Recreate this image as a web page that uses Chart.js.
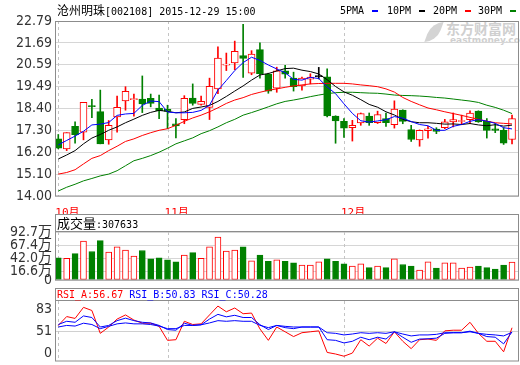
<!DOCTYPE html>
<html>
<head>
<meta charset="utf-8">
<script src="https://cdn.jsdelivr.net/npm/chart.js@4.4.1/dist/chart.umd.min.js"></script>
<style>
  body { margin: 0; background: #fff; }
  #wrap { position: relative; width: 520px; height: 365px; overflow: hidden; }
  canvas { position: absolute; left: 0; z-index: 1; }
  .t { position: absolute; white-space: nowrap; font-family: "DejaVu Sans Mono", monospace; font-size: 10px; line-height: 12px; color: #000; z-index: 2; }
  .cjk { font-family: "Noto Sans CJK SC", sans-serif; font-size: 12px; }
  .dash { position: absolute; width: 6px; height: 2px; z-index: 2; }
  .wm { position: absolute; z-index: 0; color: #cfcfcf; font-weight: bold; white-space: nowrap; }
</style>
</head>
<body>
<div id="wrap">
  <div class="wm" style="left:446px;top:19px;font-family:'Noto Sans CJK SC';font-size:14px;line-height:18px;">东方财富网</div>
  <div class="wm" style="left:450px;top:35px;font-family:'DejaVu Sans';font-size:9px;line-height:10px;">eastmoney.com</div>
  <div class="wm" style="left:428px;top:22px;width:12px;height:20px;background:#d4d4d4;border-radius:12px 0 12px 0;transform:skewX(-20deg);"></div>

  <canvas id="main" width="520" height="214" style="top:0"></canvas>
  <canvas id="vol" width="520" height="74" style="top:214px"></canvas>
  <canvas id="rsi" width="520" height="77" style="top:288px"></canvas>

  <div class="t" style="left:57px;top:2px;line-height:16px;"><span class="cjk">沧州明珠</span>[002108] 2015-12-29 15:00</div>
  <div id="legend"></div>
  <div class="t" id="volHead" style="left:57px;top:215px;line-height:16px;"></div>
  <div class="t" id="rsiHead" style="left:57px;top:289px;"></div>
</div>

<script>
// daily K-line, 2015-10-14 .. 2015-12-29
const monthLabels = ['10月', '11月', '12月'];
const monthIdx = [0, 13, 34];

const opens = [16.87,16.37,17.50,17.21,18.53,18.24,16.82,17.97,18.78,18.84, 18.87,18.90,18.41,18.35,17.63,17.84,18.92,18.60,18.45,19.38, 20.57,20.68,21.05,20.17,21.35,20.12,19.41,20.29,19.92,19.53, 19.87,20.00,19.98,18.01,17.75,17.43,17.67,18.01,17.68,17.89, 17.58,18.31,17.33,16.82,17.28,17.36,17.43,17.72,17.74,17.84, 18.26,17.75,17.38,17.30,16.84];
const highs = [17.09,17.18,17.72,18.70,18.85,19.32,17.79,19.02,19.49,19.12, 20.03,19.12,19.07,18.56,17.89,19.04,19.63,19.02,19.92,21.49, 21.18,21.78,22.62,21.30,21.69,20.17,20.47,20.56,20.22,19.97, 20.14,20.46,20.39,18.03,17.89,17.80,18.17,18.17,18.26,18.17, 18.78,18.33,17.55,17.32,17.50,17.43,17.85,18.17,18.06,18.28, 18.28,17.89,17.63,17.43,18.06];
const lows = [16.37,16.28,16.65,16.82,17.94,16.62,16.60,17.21,18.31,18.01, 18.19,18.48,17.89,17.38,16.92,17.63,18.56,18.56,17.84,19.14, 20.30,20.34,19.95,20.09,19.92,19.16,19.21,19.92,19.27,19.32, 19.63,19.88,17.97,16.65,16.94,16.76,17.55,17.55,17.64,17.50, 17.41,17.63,16.74,16.50,16.91,17.13,17.38,17.47,17.58,17.63, 17.70,16.91,17.18,16.59,16.62];
const closes = [16.40,17.18,17.08,18.70,18.49,16.62,17.55,18.45,19.26,18.86, 18.63,18.65,18.28,18.25,17.52,18.90,18.65,18.75,19.51,20.93, 20.61,21.27,20.91,21.13,20.14,19.27,20.29,20.12,19.49,19.92, 19.97,20.00,18.02,17.77,17.41,17.55,18.14,17.68,18.09,17.68, 18.36,17.75,16.84,17.30,17.38,17.25,17.72,17.84,17.76,18.17, 17.72,17.30,17.30,16.65,17.89];

const ma5 = [16.57,16.79,17.01,17.25,17.57,17.61,17.69,18.05,18.12,18.15, 18.55,18.77,18.74,18.22,18.18,18.18,18.20,18.30,18.56,19.32, 19.80,20.30,20.70,20.97,20.81,20.58,20.38,20.19,19.86,19.82, 19.96,19.90,19.48,19.14,18.63,18.15,17.78,17.71,17.77,17.83, 17.99,17.91,17.74,17.59,17.53,17.30,17.30,17.50,17.59,17.75, 17.84,17.76,17.65,17.43,17.37];
const ma10 = [15.86,16.06,16.28,16.62,16.91,17.09,17.30,17.47,17.68,17.86, 18.05,18.20,18.30,18.25,18.18,18.22,18.40,18.47,18.55,18.75, 19.00,19.27,19.53,19.82,20.08,20.15,20.28,20.40,20.42,20.32, 20.25,20.13,19.84,19.50,19.23,19.06,18.84,18.60,18.46,18.23, 18.07,17.85,17.73,17.68,17.68,17.65,17.61,17.62,17.59,17.64, 17.57,17.53,17.58,17.51,17.56];
const ma20 = [15.10,15.18,15.32,15.61,15.89,16.03,16.28,16.50,16.74,16.87, 17.04,17.18,17.30,17.38,17.55,17.75,17.92,18.06,18.23,18.43, 18.65,18.82,18.94,19.10,19.21,19.31,19.38,19.46,19.53,19.58, 19.63,19.65,19.66,19.66,19.66,19.63,19.58,19.54,19.49,19.38, 19.22,18.95,18.75,18.58,18.42,18.33,18.23,18.14,18.05,17.95, 17.85,17.76,17.68,17.65,17.62];
const ma30 = [14.25,14.44,14.59,14.76,14.88,15.01,15.10,15.27,15.52,15.77, 15.89,16.03,16.20,16.40,16.62,16.77,16.92,17.13,17.28,17.47, 17.68,17.85,18.06,18.19,18.33,18.48,18.63,18.75,18.82,18.90, 18.99,19.07,19.14,19.19,19.21,19.21,19.19,19.17,19.16,19.12, 19.07,19.05,19.04,19.02,18.99,18.95,18.92,18.87,18.82,18.77, 18.70,18.56,18.45,18.31,18.14];

// volume in 万 shares
const volumes = [43,42,51,75,55,76,54,64,58,46, 57,41,43,39,35,48,53,42,64,83, 56,58,64,37,48,36,39,36,33,29, 29,35,41,36,31,27,31,24,27,24, 41,30,27,19,35,23,33,33,23,25, 27,24,21,29,34.7];
const volumeLast = 307633;

const rsiA = [59.9,72.3,69.7,85.2,80.8,48.8,57.7,68.8,74.6,67.4, 63.0,63.0,58.6,39.0,39.9,65.7,61.2,62.1,74.6,87.0, 79.0,84.3,76.3,77.2,55.0,39.0,57.7,51.0,44.3,49.7, 51.0,52.3,22.1,19.9,16.8,21.2,39.9,31.0,42.1,34.6, 51.0,37.7,27.4,39.9,40.8,39.0,52.3,53.2,53.2,64.3, 48.8,37.7,37.7,23.0,56.67];
const rsiB = [61.2,65.7,64.3,73.2,71.0,57.7,59.9,66.6,70.1,66.6, 64.3,63.4,59.9,54.1,53.2,63.0,59.9,60.8,68.8,75.4, 71.9,74.1,71.0,71.0,61.0,54.1,59.9,56.8,55.4,57.7, 57.7,57.7,39.9,39.0,35.4,37.7,43.4,39.9,43.4,40.8, 51.0,43.4,36.3,40.8,41.2,42.1,48.8,49.7,49.7,51.9, 48.8,44.3,43.4,34.1,50.83];
const rsiC = [57.7,59.9,59.0,63.0,61.2,55.4,58.6,62.1,63.4,62.1, 62.1,61.2,59.0,55.4,55.4,59.9,59.9,60.8,63.4,66.6, 65.7,66.6,65.7,65.7,60.0,56.8,59.9,58.6,57.7,57.7, 57.7,57.7,49.7,48.8,46.6,47.9,49.7,48.8,49.7,48.8, 51.0,47.9,45.2,46.6,46.6,47.4,49.7,49.7,49.7,51.0, 48.8,47.4,46.6,45.2,50.28];

const priceTicks = [14.00, 15.10, 16.20, 17.30, 18.40, 19.49, 20.59, 21.69, 22.79];
const volTicks = [0, 16.6, 42.0, 67.4, 92.7];
const rsiTicks = [20.7, 51, 83];
const rsiTickLabels = ['0', '51', '83'];

const RED = '#ff0000', GREEN = '#008000', BLUE = '#0000ff', BLACK = '#000000';
const maNames = ['5PMA', '10PM', '20PM', '30PM'];
const maColors = [BLUE, BLACK, RED, GREEN];

const candleColor = i => closes[i] > opens[i] ? RED : (closes[i] < opens[i] ? GREEN : BLACK);
const volColor = i => closes[i] >= opens[i] ? RED : GREEN;
const pts = arr => arr.map((v, i) => ({ x: i, y: v }));

Chart.defaults.font.family = '"Liberation Sans Narrow", "DejaVu Sans Condensed", "Noto Sans CJK SC", sans-serif';
Chart.defaults.font.size = 14;
Chart.defaults.color = '#333';

// frame + dashed month lines, drawn with the chart's own x scale
const panelFrame = {
  id: 'panelFrame',
  beforeDatasetsDraw(chart) {
    const { ctx, chartArea: a, scales: { x } } = chart;
    ctx.save();
    ctx.strokeStyle = '#c4c4c4';
    ctx.lineWidth = 1;
    ctx.setLineDash([3, 3]);
    monthIdx.forEach(i => {
      const px = Math.round(x.getPixelForValue(i)) + 0.5;
      ctx.beginPath();
      ctx.moveTo(px, a.top);
      ctx.lineTo(px, a.bottom);
      ctx.stroke();
    });
    ctx.restore();
  },
  afterDraw(chart, args, opts) {
    const { ctx, chartArea: a } = chart;
    const top = opts.boxTop !== undefined ? opts.boxTop : a.top;
    ctx.save();
    ctx.strokeStyle = '#8c8c8c';
    ctx.lineWidth = 1;
    ctx.strokeRect(a.left + 0.5, top + 0.5, a.right - a.left - 1, a.bottom - top - 0.5);
    if (opts.head) {
      ctx.beginPath();
      ctx.moveTo(a.left, a.top - 0.5);
      ctx.lineTo(a.right, a.top - 0.5);
      ctx.stroke();
    }
    ctx.restore();
  }
};

function xAxis(show) {
  return {
    type: 'linear', min: -0.39, max: 54.83, display: show, offset: false,
    grid: { display: false, offset: false }, border: { display: false },
    afterBuildTicks: s => { s.ticks = monthIdx.map(v => ({ value: v })); },
    afterFit: s => { if (show) s.height = 18; },
    ticks: {
      autoSkip: false, maxRotation: 0, align: 'start', labelOffset: -3, padding: 3,
      color: RED, font: { family: '"DejaVu Sans Mono", "Noto Sans CJK SC", monospace', size: 11 },
      callback: v => monthLabels[monthIdx.indexOf(v)]
    }
  };
}

function yAxis(min, max, ticks, label, gridColor) {
  return {
    min, max,
    afterFit: s => { s.width = 55; },
    afterBuildTicks: s => { s.ticks = ticks.map(v => ({ value: v })); },
    grid: { color: gridColor, drawTicks: false },
    border: { display: false },
    // tiny lineHeight so edge labels do not shrink the plot area
    ticks: { padding: 3, color: '#333', autoSkip: false, font: { size: 14, lineHeight: '2px' }, callback: label }
  };
}

const baseOpts = {
  responsive: false, animation: false,
  plugins: { legend: { display: false }, tooltip: { enabled: false } }
};

// price panel
const maSets = [ma5, ma10, ma20, ma30].map((arr, k) => ({
  type: 'line', data: pts(arr), borderColor: maColors[k], borderWidth: 1,
  pointRadius: 0, tension: 0, order: 0
}));

new Chart(document.getElementById('main'), {
  type: 'bar',
  data: {
    datasets: [
      ...maSets,
      {
        data: closes.map((c, i) => ({ x: i, y: [opens[i], c] })),
        barThickness: 7, grouped: false, order: 1, minBarLength: 1,
        borderWidth: 1, borderSkipped: false,
        borderColor: ctx => candleColor(ctx.dataIndex),
        backgroundColor: ctx => candleColor(ctx.dataIndex) === RED ? '#ffffff' : candleColor(ctx.dataIndex)
      },
      {
        data: lows.map((l, i) => ({ x: i, y: [l, highs[i]] })),
        barThickness: 1, grouped: false, order: 2, borderWidth: 0,
        backgroundColor: ctx => candleColor(ctx.dataIndex)
      }
    ]
  },
  options: {
    ...baseOpts,
    layout: { padding: { top: 21, right: 1, left: 0, bottom: 0 } },
    scales: {
      x: xAxis(true),
      y: yAxis(14, 22.79, priceTicks, v => v.toFixed(2), '#d6d6d6')
    },
    plugins: { ...baseOpts.plugins, panelFrame: {} }
  },
  plugins: [panelFrame]
});

// volume panel
new Chart(document.getElementById('vol'), {
  type: 'bar',
  data: {
    datasets: [{
      data: pts(volumes),
      barThickness: 6, borderWidth: 1, borderSkipped: false,
      borderColor: ctx => volColor(ctx.dataIndex),
      backgroundColor: ctx => volColor(ctx.dataIndex) === RED ? '#ffffff' : GREEN
    }]
  },
  options: {
    ...baseOpts,
    layout: { padding: { top: 18, right: 1, left: 0, bottom: 8 } },
    scales: {
      x: xAxis(false),
      y: yAxis(0, 92.7, volTicks, v => v === 0 ? '0' : v.toFixed(1) + '万', '#d6d6d6')
    },
    plugins: { ...baseOpts.plugins, panelFrame: { boxTop: 0, head: true } }
  },
  plugins: [panelFrame]
});

// RSI panel
const rsiColors = [RED, BLUE, BLUE];
new Chart(document.getElementById('rsi'), {
  type: 'line',
  data: {
    datasets: [rsiC, rsiB, rsiA].map((arr, k) => ({
      data: pts(arr), borderColor: [BLUE, BLUE, RED][k], borderWidth: 1,
      pointRadius: 0, tension: 0
    }))
  },
  options: {
    ...baseOpts,
    layout: { padding: { top: 13, right: 1, left: 0, bottom: 1 } },
    scales: {
      x: xAxis(false),
      y: {
        ...yAxis(10.1, 94.1, rsiTicks, (v, i) => rsiTickLabels[i], '#d0d0d0'),
        grid: { drawTicks: false, color: ctx => ctx.tick && ctx.tick.value === 51 ? '#d0d0d0' : 'rgba(0,0,0,0)' }
      }
    },
    plugins: { ...baseOpts.plugins, panelFrame: { boxTop: 0, head: true } }
  },
  plugins: [panelFrame]
});

// header texts and MA legend
document.getElementById('volHead').innerHTML =
  '<span style="font-family:\'Noto Sans CJK SC\';font-size:13px;">成交量</span>:' + volumeLast;
const last = a => a[a.length - 1].toFixed(2);
document.getElementById('rsiHead').innerHTML =
  '<span style="color:' + rsiColors[0] + '">RSI_A:' + last(rsiA) + '</span> ' +
  '<span style="color:' + rsiColors[1] + '">RSI_B:' + last(rsiB) + '</span> ' +
  '<span style="color:' + rsiColors[2] + '">RSI_C:' + last(rsiC) + '</span>';

const legend = document.getElementById('legend');
const legendX = [340, 387, 433, 478];
maNames.forEach((name, k) => {
  const t = document.createElement('div');
  t.className = 't';
  t.style.left = legendX[k] + 'px';
  t.style.top = '5px';
  t.textContent = name;
  legend.appendChild(t);
  const d = document.createElement('div');
  d.className = 'dash';
  d.style.left = (legendX[k] + 32) + 'px';
  d.style.top = '10px';
  d.style.background = maColors[k];
  legend.appendChild(d);
});
</script>
</body>
</html>
